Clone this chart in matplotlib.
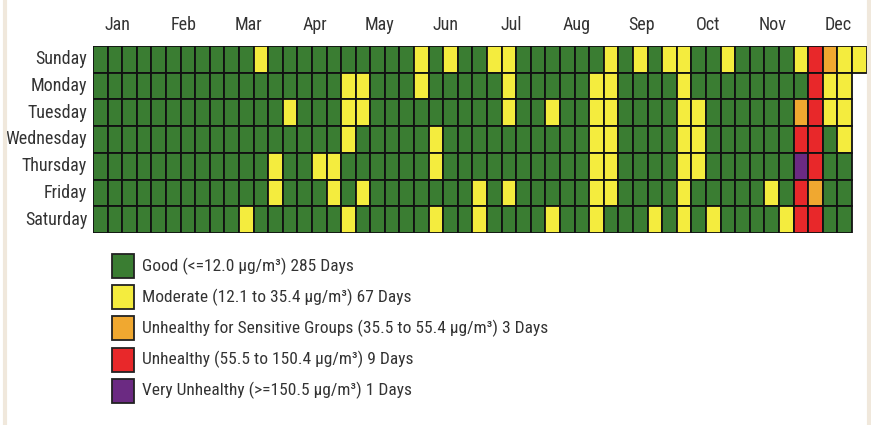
import matplotlib
matplotlib.use('Agg')
import matplotlib.pyplot as plt
from matplotlib import font_manager
from matplotlib.patches import Rectangle
from matplotlib.lines import Line2D

# ----------------------------- data -----------------------------
days = ['Sunday', 'Monday', 'Tuesday', 'Wednesday', 'Thursday', 'Friday', 'Saturday']
months = ['Jan', 'Feb', 'Mar', 'Apr', 'May', 'Jun', 'Jul', 'Aug', 'Sep', 'Oct', 'Nov', 'Dec']
n_weeks = 53
# 2017: Jan 1 is Sunday, Dec 31 is the lone Sunday of week 53
weeks_in_row = [53, 52, 52, 52, 52, 52, 52]

# week index (0-based) of each non-"Good" day, per weekday row
moderate = {
    'Sunday':    [11, 22, 24, 27, 28, 35, 37, 39, 40, 43, 48, 51, 52],
    'Monday':    [17, 18, 22, 28, 34, 35, 40, 50, 51],
    'Tuesday':   [13, 17, 18, 28, 31, 34, 35, 40, 41, 50, 51],
    'Wednesday': [17, 23, 34, 35, 40, 41, 51],
    'Thursday':  [12, 15, 16, 23, 34, 35, 40, 41],
    'Friday':    [12, 16, 18, 26, 28, 34, 35, 40, 46],
    'Saturday':  [10, 17, 23, 26, 31, 34, 38, 40, 42, 47],
}
usg = {'Sunday': [50], 'Tuesday': [48], 'Friday': [49]}
unhealthy = {
    'Sunday': [49], 'Monday': [49], 'Tuesday': [49], 'Wednesday': [48, 49],
    'Thursday': [49], 'Friday': [48], 'Saturday': [48, 49],
}
very_unhealthy = {'Thursday': [48]}

categories = ['Good', 'Moderate', 'USG', 'Unhealthy', 'Very Unhealthy']
cat_colors = ['#3a7d32', '#f4ec3e', '#f0a830', '#e8282a', '#6b2a82']
legend_labels = [
    'Good (<=12.0 \u03bcg/m\u00b3) 285 Days',
    'Moderate (12.1 to 35.4 \u03bcg/m\u00b3) 67 Days',
    'Unhealthy for Sensitive Groups (35.5 to 55.4 \u03bcg/m\u00b3) 3 Days',
    'Unhealthy (55.5 to 150.4 \u03bcg/m\u00b3) 9 Days',
    'Very Unhealthy (>=150.5 \u03bcg/m\u00b3) 1 Days',
]


def pick_font():
    # look for a narrow / condensed face, the reference uses one
    fl = font_manager.fontManager.ttflist
    prefs = ['Liberation Sans Narrow', 'Roboto Condensed', 'Open Sans Condensed',
             'Noto Sans Condensed', 'DejaVu Sans Condensed']
    for p in prefs:
        for f in fl:
            if f.name == p and f.style == 'normal' and f.weight in (400, 'normal', 'regular'):
                return font_manager.FontProperties(fname=f.fname), True
    for f in fl:
        if f.style == 'normal' and f.weight in (400, 'normal', 'regular') and \
                f.stretch in ('condensed', 'semi-condensed') and 'Mono' not in f.name \
                and 'Serif' not in f.name:
            return font_manager.FontProperties(fname=f.fname), True
    for f in fl:
        if 'Condensed' in f.fname and 'Bold' not in f.fname and 'Oblique' not in f.fname \
                and 'Mono' not in f.fname and 'Serif' not in f.fname:
            return font_manager.FontProperties(fname=f.fname), True
    return font_manager.FontProperties(family='DejaVu Sans'), False


def main():
    fp, narrow = pick_font()
    fs = 13 if narrow else 11
    fs_leg = 12.5 if narrow else 10.5

    W, H = 871, 425
    fig = plt.figure(figsize=(W / 100, H / 100), dpi=100)
    fig.patch.set_facecolor('white')

    # ======================== calendar grid ========================
    x0, x1, y0, y1 = 93, 866.5, 46, 233
    ax = fig.add_axes([x0 / W, 1 - y1 / H, (x1 - x0) / W, (y1 - y0) / H])
    for r, day in enumerate(days):
        weeks = list(range(weeks_in_row[r]))
        cols = []
        for w in weeks:
            c = cat_colors[0]
            if w in moderate.get(day, []):
                c = cat_colors[1]
            if w in usg.get(day, []):
                c = cat_colors[2]
            if w in unhealthy.get(day, []):
                c = cat_colors[3]
            if w in very_unhealthy.get(day, []):
                c = cat_colors[4]
            cols.append(c)
        ax.bar(weeks, 1, bottom=r, width=1, align='center', color=cols,
               edgecolor='#111111', linewidth=1.3)
    ax.set_xlim(-0.5, n_weeks - 0.5)
    ax.set_ylim(7, 0)
    ax.axis('off')

    # month labels (spread evenly over the top)
    for i, m in enumerate(months):
        ax.text(1.2 + i * 4.49, -0.8, m, ha='center', va='center',
                fontproperties=fp, fontsize=fs, color='#333333')
    # weekday labels
    for r, day in enumerate(days):
        ax.text(-0.9, r + 0.5, day, ha='right', va='center',
                fontproperties=fp, fontsize=fs, color='#333333')

    # ============================ legend ============================
    for i, (lab, col) in enumerate(zip(legend_labels, cat_colors)):
        cy = 266 + i * 31.2
        fig.add_artist(Rectangle((112 / W, 1 - (cy + 12) / H), 22 / W, 24 / H,
                                 facecolor=col, edgecolor='#222222', linewidth=1.3,
                                 transform=fig.transFigure))
        fig.text(142 / W, 1 - cy / H, lab, ha='left', va='center',
                 fontproperties=fp, fontsize=fs_leg, color='#333333')

    # light frame lines on the sides
    for xx in (5, 869):
        fig.add_artist(Line2D([xx / W, xx / W], [0, 1], color='#f0e8dc',
                              linewidth=3, transform=fig.transFigure))

    fig.savefig('out.png', dpi=100)


if __name__ == '__main__':
    main()
